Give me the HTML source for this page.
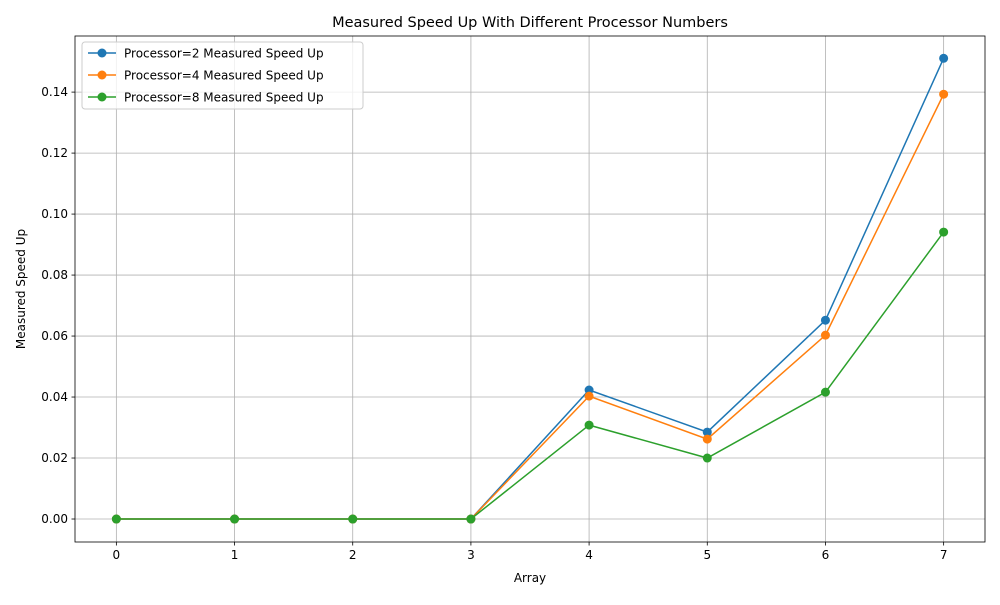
<!DOCTYPE html>
<html><head><meta charset="utf-8"><style>
body{margin:0;background:#fff;font-family:"Liberation Sans","DejaVu Sans",sans-serif;}
svg text{font-family:"DejaVu Sans","Liberation Sans",sans-serif;}
</style></head><body>
<svg id="chart" width="1000" height="600" xmlns="http://www.w3.org/2000/svg"></svg>
<script>
const categories=[0,1,2,3,4,5,6,7];
const p2Values=[0,0,0,0,0.0423,0.0285,0.0652,0.1511];
const p4Values=[0,0,0,0,0.0403,0.0262,0.0603,0.1393];
const p8Values=[0,0,0,0,0.0308,0.0200,0.0416,0.0941];
const yTicks=[0,0.02,0.04,0.06,0.08,0.10,0.12,0.14];
const seriesNames=["Processor=2 Measured Speed Up","Processor=4 Measured Speed Up","Processor=8 Measured Speed Up"];
const seriesColors=["#1f77b4","#ff7f0e","#2ca02c"];

const svg=document.getElementById('chart');
const NS="http://www.w3.org/2000/svg";
const L=75,R=985,T=36,B=542;
const xMin=-0.35,xMax=7.35,yMin=-0.00754,yMax=0.1584;
const xs=v=>L+(v-xMin)/(xMax-xMin)*(R-L);
const ys=v=>B-(v-yMin)/(yMax-yMin)*(B-T);
function mk(tag,attrs,txt){const e=document.createElementNS(NS,tag);for(const k in attrs)e.setAttribute(k,attrs[k]);if(txt!==undefined)e.textContent=txt;svg.appendChild(e);return e;}

categories.forEach(c=>{
  const x=xs(c);
  const g=mk('line',{x1:x,x2:x,y1:T,y2:B,stroke:'#b0b0b0','stroke-width':0.8});
  
  
  const t=mk('line',{x1:x,x2:x,y1:B,y2:B+3.5,stroke:'#000','stroke-width':0.8});
  
  
  const l=mk('text',{x:x,y:B+17,'font-size':12,'text-anchor':'middle'},String(c));
  
  
});
yTicks.forEach(v=>{
  const y=ys(v);
  const g=mk('line',{x1:L,x2:R,y1:y,y2:y,stroke:'#b0b0b0','stroke-width':0.8});
  
  
  const t=mk('line',{x1:L-3.5,x2:L,y1:y,y2:y,stroke:'#000','stroke-width':0.8});
  
  
  const l=mk('text',{x:L-7,y:y+4,'font-size':12,'text-anchor':'end'},v.toFixed(2));
  
  
});
[p2Values,p4Values,p8Values].forEach((vals,i)=>{
  const pts=vals.map((v,j)=>xs(categories[j])+','+ys(v)).join(' ');
  const pl=mk('polyline',{points:pts,fill:'none',stroke:seriesColors[i],'stroke-width':1.5});
  
  
  vals.forEach((v,j)=>{
    const c=mk('circle',{cx:xs(categories[j]),cy:ys(v),r:4.5,fill:seriesColors[i]});
    
    
  });
});
const frame=mk('rect',{x:L,y:T,width:R-L,height:B-T,fill:'none',stroke:'#000','stroke-width':0.8});


const title=mk('text',{x:(L+R)/2,y:27,'font-size':14.5,'text-anchor':'middle'},'Measured Speed Up With Different Processor Numbers');


const xt=mk('text',{x:(L+R)/2,y:582,'font-size':12,'text-anchor':'middle'},'Array');


const yt=mk('text',{x:0,y:0,'font-size':12,'text-anchor':'middle',transform:'translate(25,289) rotate(-90)'},'Measured Speed Up');


const lg=mk('rect',{x:82,y:42,width:281,height:67,rx:3,fill:'#fff','fill-opacity':0.8,stroke:'#ccc','stroke-width':1});


seriesNames.forEach((n,i)=>{
  const y=53+i*22;
  const ll=mk('line',{x1:88,x2:116,y1:y,y2:y,stroke:seriesColors[i],'stroke-width':1.5});
  
  
  const lc=mk('circle',{cx:102,cy:y,r:4.5,fill:seriesColors[i]});
  
  
  const lt=mk('text',{x:124,y:y+4.5,'font-size':12},n);
  
  
});
</script>
</body></html>
